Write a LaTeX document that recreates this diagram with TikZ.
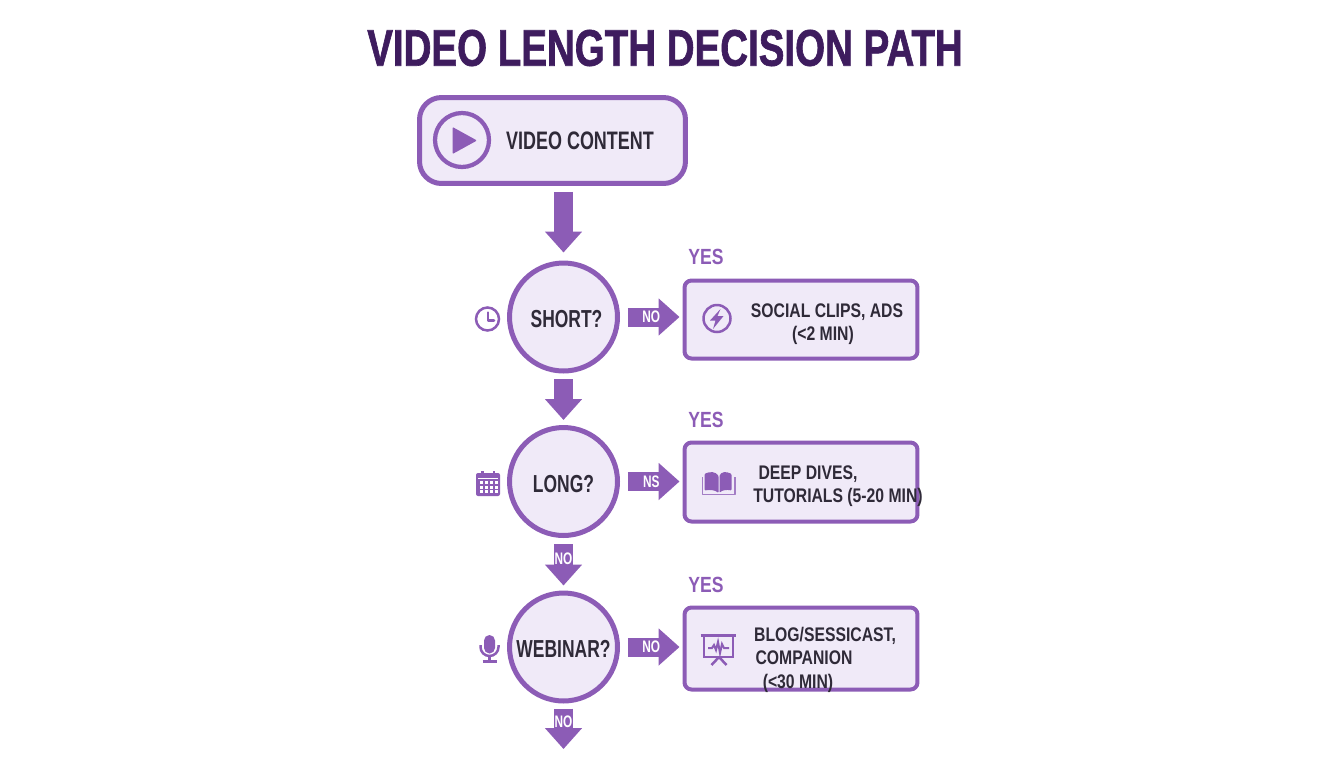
\documentclass[tikz,border=0pt]{standalone}
\usepackage{fontspec}
\setmainfont[FakeStretch=0.8]{Liberation Sans}
\newfontfamily\narrowfont[FakeStretch=0.71]{Liberation Sans}
\newfontfamily\titlefont[FakeStretch=0.748]{Liberation Sans}
\usetikzlibrary{arrows.meta}
\definecolor{vpurple}{HTML}{8C5CB6}
\definecolor{vfill}{HTML}{F0EAF8}
\definecolor{vdark}{HTML}{2F2A38}
\definecolor{vtitle}{HTML}{3E1C5E}
\tikzset{
    startbox/.style={draw=vpurple,fill=vfill,line width=0.1cm,rounded corners=0.44cm,minimum width=5.32cm,minimum height=1.72cm},
    question/.style={circle,draw=vpurple,fill=vfill,line width=0.1cm,minimum size=2.16cm,inner sep=0pt},
    questiontext/.style={font=\narrowfont\bfseries\fontsize{14}{16}\selectfont,text=vdark,inner sep=0pt,text height=10pt,text depth=0pt},
    answer/.style={draw=vpurple,fill=vfill,line width=0.08cm,rounded corners=0.14cm,minimum width=4.66cm},
    answertext/.style={font=\bfseries\fontsize{11.2}{13}\selectfont,text=vdark,inner sep=0pt,text height=8pt,text depth=0pt},
    yeslabel/.style={font=\bfseries\fontsize{12.5}{14}\selectfont,text=vpurple,inner sep=0pt},
    nolabel/.style={font=\narrowfont\bfseries\fontsize{9.5}{10}\selectfont,text=white,inner sep=0pt},
    flow/.style={draw=vpurple,line width=0.38cm,-{Triangle[length=0.42cm,width=0.72cm]}},
    icon/.style={draw=vpurple,line width=0.05cm}
}
\begin{document}
\begin{tikzpicture}[x=0.02cm,y=-0.02cm]
    \useasboundingbox (0,0) rectangle (1344,768);
    \node[font=\titlefont\bfseries\addfontfeature{FakeBold=1.2}\fontsize{29.3}{34}\selectfont,text=vtitle,inner sep=0pt] (title) at (665,48) {VIDEO LENGTH DECISION PATH};

    \node[startbox] (start) at (552.5,140.5) {};
    \node[circle,draw=vpurple,line width=0.085cm,minimum size=1.08cm,inner sep=0pt] (playicon) at (462,140) {};
    \fill[vpurple,rounded corners=0.02cm] (452.5,127) -- (477,140.5) -- (452.5,154) -- cycle;
    \node[font=\narrowfont\bfseries\fontsize{14.4}{16}\selectfont,text=vdark,inner sep=0pt] (starttext) at (580,141) {VIDEO CONTENT};

    \node[question] (short) at (563.5,317) {};
    \node[question] (long) at (563.5,481.5) {};
    \node[question] (webinar) at (563.5,647) {};
    \node[questiontext] (shorttext) at (566.5,319) {SHORT?};
    \node[questiontext] (longtext) at (563.5,484) {LONG?};
    \node[questiontext] (webinartext) at (563.5,649) {WEBINAR?};
    \coordinate (end) at (563.5,749);

    \node[answer,minimum height=1.56cm] (clips) at (801,319.5) {};
    \node[answer,minimum height=1.58cm] (dives) at (801,482) {};
    \node[answer,minimum height=1.64cm] (blog) at (801,648.5) {};

    \node[yeslabel] (yes1) at (706,257) {YES};
    \node[yeslabel] (yes2) at (706,420) {YES};
    \node[yeslabel] (yes3) at (706,585) {YES};

    \node[answertext] (clips1) at (827,310) {SOCIAL CLIPS, ADS};
    \node[answertext] (clips2) at (823,333) {(<2 MIN)};
    \node[answertext] (dives1) at (808,472) {DEEP DIVES,};
    \node[answertext] (dives2) at (838,495) {TUTORIALS (5-20 MIN)};
    \node[answertext] (blog1) at (825,634) {BLOG/SESSICAST,};
    \node[answertext] (blog2) at (804,657) {COMPANION};
    \node[answertext] (blog3) at (798,681) {(<30 MIN)};

    \draw[flow,shorten <=0.12cm,shorten >=0.16cm] (start.south-|short) -- (short.north);
    \draw[flow,shorten <=0.12cm,shorten >=0.1cm] (short) -- (long);
    \draw[flow,shorten <=0.12cm,shorten >=0.1cm] (long) -- node[nolabel,pos=0.4] (no3) {NO} (webinar);
    \draw[flow,shorten <=0.1cm] (webinar) -- node[nolabel,pos=0.39] (no4) {NO} (end);
    \draw[flow,shorten <=0.16cm,shorten >=0.06cm] (short) -- node[nolabel,midway] (no1) {NO} (short-|clips.west);
    \draw[flow,shorten <=0.16cm,shorten >=0.06cm] (long) -- node[nolabel,midway] (no2) {NS} (long-|dives.west);
    \draw[flow,shorten <=0.16cm,shorten >=0.06cm] (webinar) -- node[nolabel,midway] (no5) {NO} (webinar-|blog.west);

    \draw[icon] (487.5,319) circle (11.5);
    \draw[icon,line cap=round,line join=round] (488,312.5) -- (488,320.5) -- (494,320.5);

    \fill[vpurple,rounded corners=0.04cm] (476,473) rectangle (500,496);
    \fill[vpurple] (481,470.5) rectangle (483.5,475);
    \fill[vpurple] (492.5,470.5) rectangle (495,475);
    \fill[white] (478,478) rectangle (498,479);
    \foreach \i in {0,1,2,3}
        \foreach \j in {0,1,2}
            \fill[white] (480+\i*5,481+\j*4.5) rectangle +(3,3);

    \fill[vpurple] (484,640.5) arc (180:360:5.5) -- (495,648) arc (0:180:5.5) -- cycle;
    \draw[icon] (480.5,645) -- (480.5,647) arc (180:0:9) -- (498.5,645);
    \draw[icon] (489.5,656) -- (489.5,661);
    \draw[icon] (482.5,661.5) -- (496.5,661.5);

    \draw[icon] (717,318.5) circle (13.5);
    \fill[vpurple] (720.5,309) -- (710,320.5) -- (715.5,320.5) -- (713,329) -- (723.5,316) -- (717.5,316) -- cycle;

    \fill[vpurple,rounded corners=0.02cm] (704.5,474) .. controls (710,471) and (716,472) .. (718.5,476) -- (718.5,493) .. controls (715,490) and (710,489.5) .. (704.5,490.5) -- cycle;
    \fill[vpurple,rounded corners=0.02cm] (731.5,474) .. controls (726,471) and (721,472) .. (719.5,476) -- (719.5,493) .. controls (722,490) and (727,489.5) .. (731.5,490.5) -- cycle;
    \draw[vpurple!80,line width=0.035cm,line join=round] (702.5,477) -- (702.5,494.5) -- (735,494.5) -- (735,477);

    \draw[vpurple,line width=0.07cm] (700.5,635.5) -- (735.5,635.5);
    \draw[vpurple,line width=0.04cm] (703.5,636) rectangle (733,657);
    \draw[icon] (719,657) -- (711.5,665);
    \draw[icon] (719,657) -- (726.5,665);
    \draw[vpurple,line width=0.04cm] (708,648) -- (712,648) -- (714,645) -- (716,650) -- (718,642) -- (720,653) -- (722,644) -- (724,648) -- (729,648);
\end{tikzpicture}
\end{document}
